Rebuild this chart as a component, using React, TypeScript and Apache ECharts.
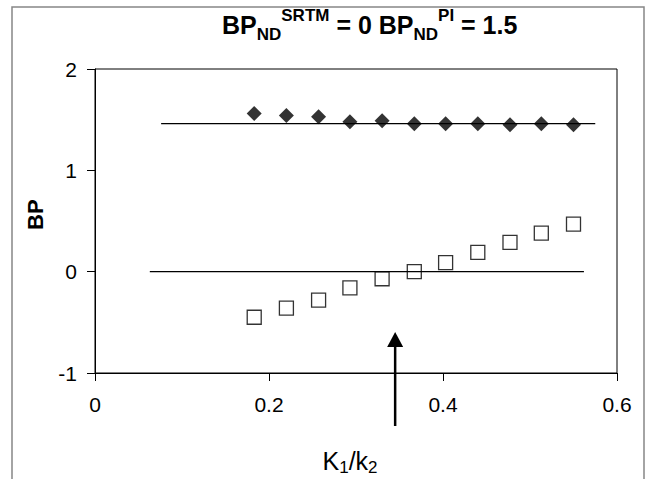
import React, { useEffect, useRef } from "react";
import * as echarts from "echarts";

const kRatio = [0.183, 0.22, 0.257, 0.293, 0.33, 0.367, 0.403, 0.44, 0.477, 0.513, 0.55];
const bpPI = [1.56, 1.54, 1.53, 1.48, 1.49, 1.46, 1.46, 1.46, 1.45, 1.46, 1.45];
const bpSRTM = [-0.45, -0.36, -0.28, -0.16, -0.07, 0.0, 0.09, 0.19, 0.29, 0.38, 0.47];
const piLineX = [0.076, 0.575];
const piLineY = 1.46;
const srtmLineX = [0.063, 0.562];
const srtmLineY = 0;
const arrowX = 0.345;
const arrowY = [-1.523, -0.67];

const FONT = "'Liberation Sans', Arial, sans-serif";

export default function App() {
  const ref = useRef<HTMLDivElement>(null);
  useEffect(() => {
    if (!ref.current) return;
    const chart = echarts.init(ref.current, undefined, { renderer: "svg" });
    chart.setOption({
      animation: false,
      backgroundColor: "#fff",
      title: {
        text: "{m|BP}{s|ND}{p|SRTM}{m| = 0 BP}{s|ND}{p|PI}{m| = 1.5}",
        left: 222,
        top: 7,
        padding: 0,
        textStyle: {
          rich: {
            m: { fontFamily: FONT, fontSize: 25, fontWeight: "bold", color: "#000", lineHeight: 36 },
            s: { fontFamily: FONT, fontSize: 17, fontWeight: "bold", color: "#000", lineHeight: 18, verticalAlign: "bottom" },
            p: { fontFamily: FONT, fontSize: 17, fontWeight: "bold", color: "#000", lineHeight: 18, verticalAlign: "top" },
          },
        },
      },
      grid: {
        left: 95,
        right: 30,
        top: 69,
        bottom: 106,
        show: true,
        borderColor: "#000",
        borderWidth: 1,
        backgroundColor: "transparent",
      },
      xAxis: {
        type: "value",
        min: 0,
        max: 0.6,
        interval: 0.2,
        splitLine: { show: false },
        axisLine: { show: true, onZero: false, lineStyle: { color: "#000", width: 1 } },
        axisTick: { show: true, inside: false, length: 8, lineStyle: { color: "#000", width: 1 } },
        axisLabel: { margin: 21, fontSize: 21, fontFamily: FONT, color: "#000" },
      },
      yAxis: {
        type: "value",
        min: -1,
        max: 2,
        interval: 1,
        splitLine: { show: false },
        axisLine: { show: true, onZero: false, lineStyle: { color: "#000", width: 1 } },
        axisTick: { show: true, inside: false, length: 8, lineStyle: { color: "#000", width: 1 } },
        axisLabel: { margin: 18, fontSize: 21, fontFamily: FONT, color: "#000" },
      },
      graphic: [
        {
          type: "rect",
          shape: { x: 12, y: 7, width: 632, height: 500 },
          style: { fill: "none", stroke: "#868686", lineWidth: 1.5 },
          silent: true,
        },
        {
          type: "text",
          x: 35.7,
          y: 214.7,
          rotation: Math.PI / 2,
          style: {
            text: "BP",
            fontFamily: FONT,
            fontSize: 22,
            fontWeight: "bold",
            fill: "#000",
            align: "center",
            verticalAlign: "middle",
          },
        },
        {
          type: "text",
          x: 350,
          y: 446,
          style: {
            text: "{m|K}{s|1}{m|/k}{s|2}",
            align: "center",
            verticalAlign: "top",
            rich: {
              m: { fontFamily: FONT, fontSize: 25, fill: "#000", lineHeight: 30 },
              s: { fontFamily: FONT, fontSize: 17, fill: "#000", lineHeight: 18, verticalAlign: "bottom" },
            },
          },
        },
      ],
      series: [
        {
          type: "line",
          data: piLineX.map((x) => [x, piLineY]),
          symbol: "none",
          lineStyle: { color: "#000", width: 1.3 },
          z: 2,
        },
        {
          type: "line",
          data: srtmLineX.map((x) => [x, srtmLineY]),
          symbol: "none",
          lineStyle: { color: "#000", width: 1.3 },
          z: 3,
        },
        {
          type: "scatter",
          data: kRatio.map((x, i) => [x, bpPI[i]]),
          symbol: "diamond",
          symbolSize: 15,
          itemStyle: { color: "#000" },
          z: 4,
        },
        {
          type: "scatter",
          data: kRatio.map((x, i) => [x, bpSRTM[i]]),
          symbol: "rect",
          symbolSize: 14,
          itemStyle: { color: "rgba(0,0,0,0)", borderColor: "#000", borderWidth: 1.3 },
          z: 2,
        },
        {
          type: "line",
          clip: false,
          data: [
            { value: [arrowX, arrowY[0]], symbol: "none" },
            { value: [arrowX, arrowY[1]], symbol: "triangle", symbolSize: [16, 15] },
          ],
          showSymbol: true,
          itemStyle: { color: "#000" },
          lineStyle: { color: "#000", width: 2.5 },
          z: 5,
        },
      ],
    });
    return () => chart.dispose();
  }, []);
  return (
    <div
      ref={ref}
      style={{ position: "fixed", left: 0, top: 0, width: 647, height: 479, background: "#fff" }}
    />
  );
}
